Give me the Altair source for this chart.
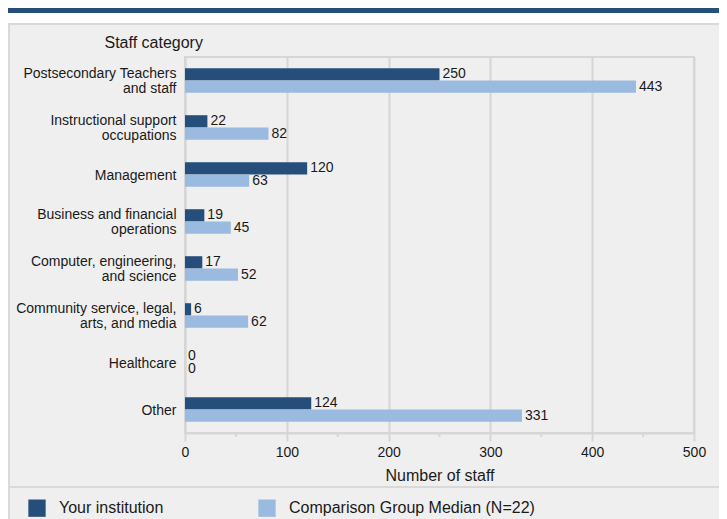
import altair as alt
import pandas as pd

categories = [
    "Postsecondary Teachers|and staff",
    "Instructional support|occupations",
    "Management",
    "Business and financial|operations",
    "Computer, engineering,|and science",
    "Community service, legal,|arts, and media",
    "Healthcare",
    "Other",
]
your_institution = [250, 22, 120, 19, 17, 6, 0, 124]
comparison_median = [443, 82, 63, 45, 52, 62, 0, 331]
series_names = ["Your institution", "Comparison Group Median (N=22)"]
colors = ["#264e7a", "#9bbadf"]
x_ticks = [0, 100, 200, 300, 400, 500]
x_minor_ticks = [50, 150, 250, 350, 450]

rows = []
for c, a, b in zip(categories, your_institution, comparison_median):
    rows.append({"category": c, "series": series_names[0], "value": a})
    rows.append({"category": c, "series": series_names[1], "value": b})
df = pd.DataFrame(rows)
minor_df = pd.DataFrame({"tick": x_minor_ticks})

W, H = 509, 376
FONT = "Liberation Sans"
GRID = "#d6d6d6"
TXT = "#1a1a1a"

x_scale = alt.Scale(domain=[0, 500], nice=False)
y_enc = alt.Y(
    "category:N",
    sort=categories,
    scale=alt.Scale(paddingInner=0.477, paddingOuter=0.2385),
    axis=alt.Axis(
        title="Staff category",
        titleAngle=0,
        titleAlign="left",
        titleBaseline="middle",
        titleX=-81,
        titleY=-15,
        titleFontSize=16,
        titleFont=FONT,
        titleFontWeight="normal",
        titleColor=TXT,
        labelExpr="split(datum.label, '|')",
        labelOffset={
            "condition": {"test": "indexof(datum.value, '|') >= 0", "value": -6.5},
            "value": 1.5,
        },
        labelFontSize=14,
        labelFont=FONT,
        labelColor=TXT,
        labelLineHeight=15,
        labelPadding=9,
        labelLimit=300,
        ticks=False,
        domainColor=GRID,
        domainWidth=2,
        grid=False,
    ),
)
yoff = alt.YOffset("series:N", sort=series_names,
                   scale=alt.Scale(paddingInner=0, paddingOuter=0))

base = alt.Chart(df)

bars = base.mark_bar().encode(
    x=alt.X(
        "value:Q",
        scale=x_scale,
        axis=alt.Axis(
            values=x_ticks,
            title="Number of staff",
            grid=True,
            gridColor=GRID,
            gridWidth=2,
            tickColor=GRID,
            tickWidth=2,
            tickSize=8,
            domainColor=GRID,
            domainWidth=2,
            labelFlush=False,
            labelFontSize=14,
            labelFont=FONT,
            labelColor=TXT,
            labelPadding=4,
            titleFontSize=16,
            titleFont=FONT,
            titleFontWeight="normal",
            titleColor=TXT,
            titlePadding=8,
        ),
    ),
    y=y_enc,
    yOffset=yoff,
    color=alt.Color(
        "series:N",
        scale=alt.Scale(domain=series_names, range=colors),
        legend=alt.Legend(
            title=None,
            orient="none",
            legendX=-157,
            legendY=442,
            direction="horizontal",
            symbolType="square",
            symbolSize=300,
            symbolStrokeWidth=0,
            symbolOpacity=1,
            labelFontSize=16,
            labelFont=FONT,
            labelColor=TXT,
            labelOffset=13,
            labelLimit=400,
            columnPadding=94,
        ),
    ),
)

labels = base.mark_text(align="left", baseline="middle", dx=3, fontSize=14,
                        font=FONT, color=TXT).encode(
    x=alt.X("value:Q", scale=x_scale),
    y=alt.Y("category:N", sort=categories),
    yOffset=yoff,
    text="value:Q",
)

minor = alt.Chart(minor_df).mark_rule(color=GRID, strokeWidth=2).encode(
    x=alt.X("tick:Q", scale=x_scale),
    y=alt.value(H),
    y2=alt.value(H + 4),
)

one = alt.Data(values=[{"k": 1}])
white_strip = alt.Chart(one).mark_rect(color="white").encode(
    x=alt.value(-180), x2=alt.value(W + 40), y=alt.value(-52), y2=alt.value(-34)
)
top_band = alt.Chart(one).mark_rect(color="#274f7c").encode(
    x=alt.value(-180), x2=alt.value(W + 40), y=alt.value(-49), y2=alt.value(-44)
)
top_border = alt.Chart(one).mark_rule(color="#d9d9d9", strokeWidth=2).encode(
    x=alt.value(-177), x2=alt.value(W + 40), y=alt.value(-33)
)
left_border = alt.Chart(one).mark_rule(color="#d9d9d9", strokeWidth=2).encode(
    x=alt.value(-176), y=alt.value(-33), y2=alt.value(H + 100)
)
sep = alt.Chart(one).mark_rule(color="#d9d9d9", strokeWidth=2).encode(
    x=alt.value(-177), x2=alt.value(W + 40), y=alt.value(430)
)

chart = alt.layer(
    white_strip, top_band, top_border, left_border, sep, minor, bars, labels
).properties(
    width=W,
    height=H,
    autosize=alt.AutoSizeParams(type="none"),
    padding={"left": 177, "top": 49, "right": 25, "bottom": 86},
).configure(
    background="#efefef",
).configure_view(
    stroke=GRID,
    strokeWidth=2,
)

chart.save("out.html", embed_options={"renderer": "svg", "actions": False})
